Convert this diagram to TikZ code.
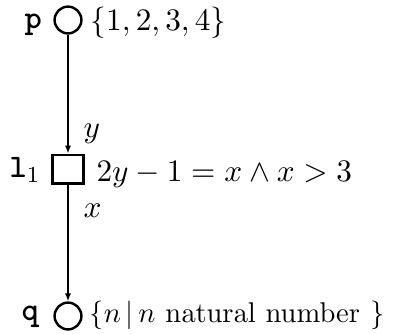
\documentclass[tikz,border=0pt]{standalone}
\usetikzlibrary{arrows.meta}
\begin{document}
\begin{tikzpicture}[x=0.35pt,y=-0.35pt,
  font=\fontsize{10.6}{13}\selectfont,
  place/.style={draw,circle,line width=0.85pt,minimum size=9.4pt,inner sep=0pt},
  trans/.style={draw,rectangle,line width=0.85pt,minimum width=10.8pt,minimum height=10pt,inner sep=0pt},
  arc/.style={line width=0.65pt,-{Latex[length=2.8pt,width=2.2pt]}},
  lbl/.style={inner sep=0pt,anchor=base west},
  plbl/.style={inner sep=0pt,anchor=base west,font=\fontsize{11.5}{13}\selectfont\ttfamily\bfseries}]
\useasboundingbox (0,0) rectangle (402,333);
\node[place] (p) at (68,20) {};
\node[trans] (t) at (68,169) {};
\node[place] (q) at (68,316) {};
\node[plbl] (pl) at (24,28) {p};
\node[plbl] (tl) at (9,177) {l$_1$};
\node[plbl] (ql) at (21,320) {q};
\node[lbl] (pm) at (90,30) {$\{1,2,3,4\}$};
\node[lbl] (tg) at (96,181) {$2y-1=x\wedge x>3$};
\node[lbl,font=\fontsize{10.3}{13}\selectfont] (qm) at (89,322) {$\{n\,|\,n\ \mathrm{natural\ number}\ \}$};
\node[lbl] (yl) at (83,137) {$y$};
\node[lbl] (xl) at (83,217) {$x$};
\draw[arc] (p) -- (t);
\draw[arc] (t) -- (q);
\end{tikzpicture}
\end{document}
